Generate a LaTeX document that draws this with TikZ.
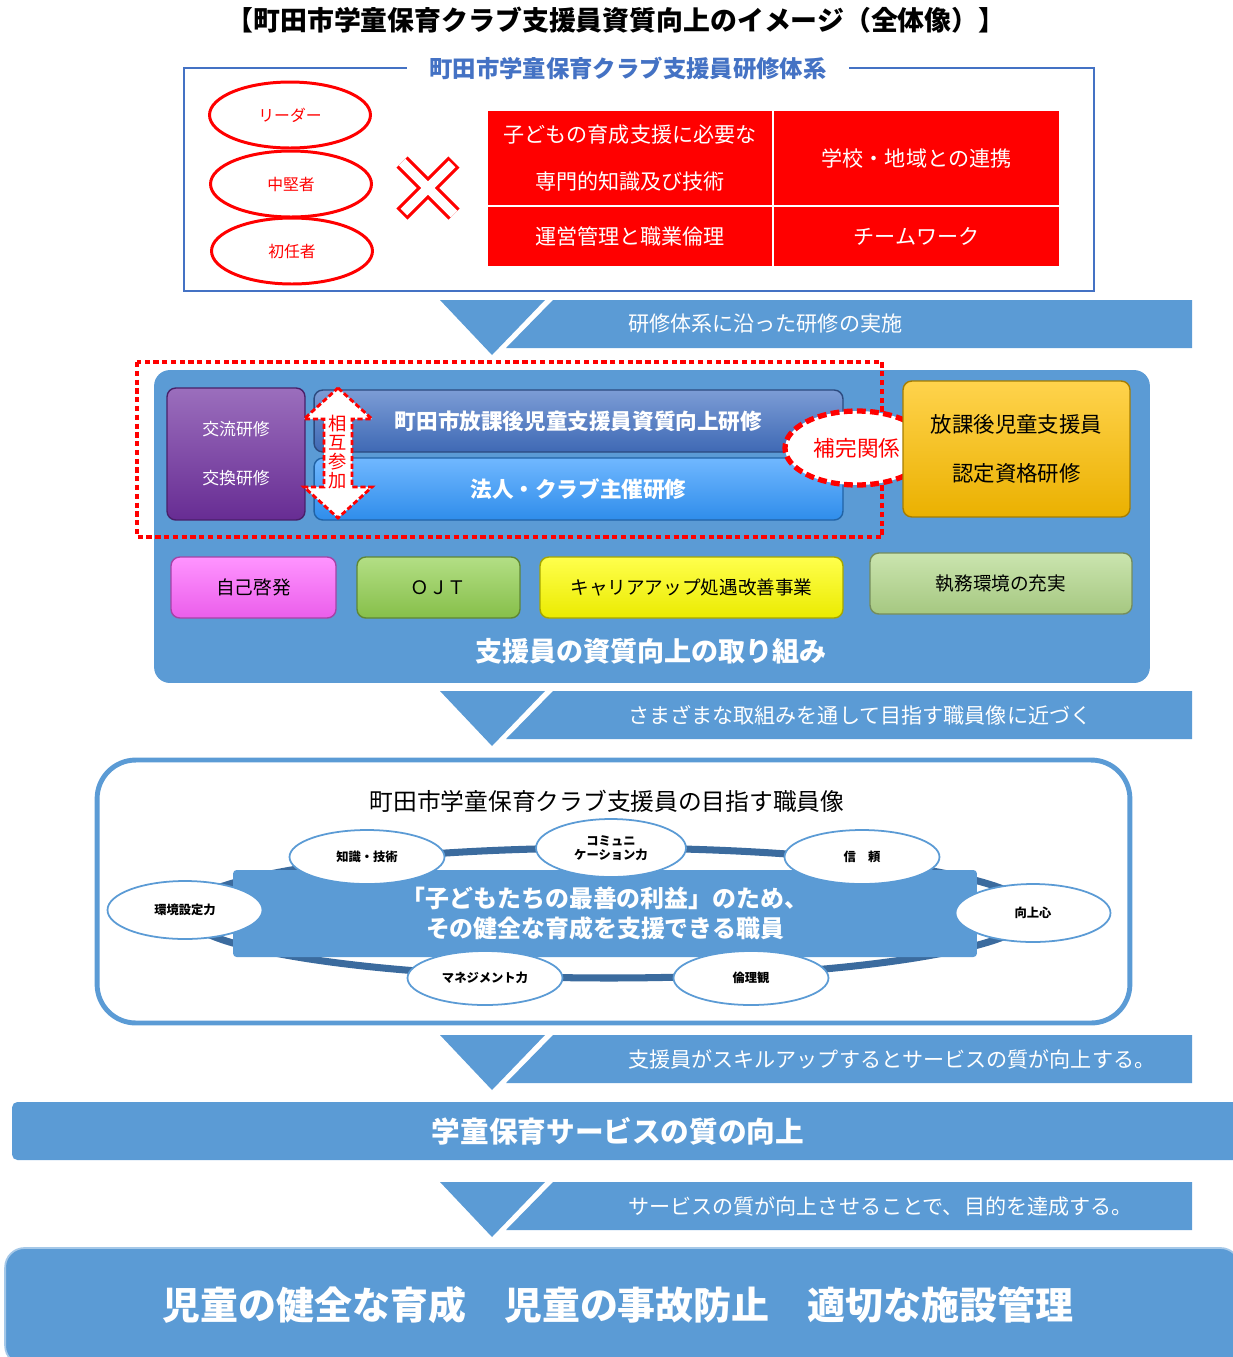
\documentclass[tikz,border=0pt]{standalone}
\usepackage{fontspec}
\setmainfont{Noto Sans CJK JP}
\usetikzlibrary{shapes.geometric,positioning}
\definecolor{mcframe}{HTML}{4472C4}
\definecolor{mcsky}{HTML}{5B9BD5}
\definecolor{mcred}{HTML}{FF0000}
\definecolor{mcpurple}{HTML}{7030A0}
\definecolor{mcbar}{HTML}{4472C4}
\definecolor{mcbarlight}{HTML}{3399FF}
\definecolor{mcgold}{HTML}{FFC000}
\definecolor{mcpink}{HTML}{FF66FF}
\definecolor{mcgreen}{HTML}{92D050}
\definecolor{mcyellow}{HTML}{FFFF00}
\definecolor{mcpale}{HTML}{B4D98C}
\definecolor{mcring}{HTML}{3B6B9E}
\tikzset{
  redoval/.style={ellipse,draw=mcred,line width=1.7pt,text=mcred,
    minimum width=3.22cm,minimum height=1.32cm,inner sep=0pt,
    font=\fontsize{9}{11}\selectfont},
  redcell/.style={fill=mcred,draw=white,line width=0.8pt,text=white,
    align=center,inner sep=0pt,font=\fontsize{12}{27}\selectfont},
  bevel/.style={rounded corners=5pt,top color=#1!70!white,bottom color=#1!92!black,
    draw=#1!65!black,line width=0.8pt,align=center,inner sep=0pt},
  traitoval/.style={ellipse,draw=mcsky,fill=white,line width=1pt,inner sep=0pt,
    minimum width=3.1cm,minimum height=1.08cm,align=center,
    font=\bfseries\fontsize{7}{8}\selectfont},
  bandtext/.style={anchor=west,text=white,font=\fontsize{12}{14}\selectfont}
}
\begin{document}
\begin{tikzpicture}[x=0.02cm,y=-0.02cm]
  \useasboundingbox (0,0) rectangle (1232,1357);
  \node[font=\bfseries\fontsize{15.3}{18}\selectfont] (title) at (616,20)
    {【町田市学童保育クラブ支援員資質向上のイメージ（全体像）】};

  % training system
  \node[draw=mcframe,line width=1.2pt,minimum width=18.2cm,minimum height=4.46cm] (system) at (639,179.5) {};
  \node[fill=white,text=mcframe,inner xsep=0.44cm,font=\bfseries\fontsize{13.3}{16}\selectfont] (systemtitle) at (628,68)
    {町田市学童保育クラブ支援員研修体系};
  \node[redoval] (leader) at (290,115) {リーダー};
  \node[redoval] (middle) at (291,184) {中堅者};
  \node[redoval] (novice) at (292,251) {初任者};
  \draw[mcred,line width=9pt] (402,162) -- (454,214) (454,162) -- (402,214);
  \draw[white,line width=5.4pt,shorten <=1.6pt,shorten >=1.6pt] (402,162) -- (454,214) (454,162) -- (402,214);
  \node[redcell,minimum width=5.72cm,minimum height=1.92cm] (skill) at (630,158)
    {子どもの育成支援に必要な\\専門的知識及び技術};
  \node[redcell,minimum width=5.74cm,minimum height=1.92cm] (region) at (916.5,158) {学校・地域との連携};
  \node[redcell,minimum width=5.72cm,minimum height=1.22cm] (ethics) at (630,236.5) {運営管理と職業倫理};
  \node[redcell,minimum width=5.74cm,minimum height=1.22cm] (teamwork) at (916.5,236.5) {チームワーク};

  % step bands
  \foreach \y/\txt [count=\i] in {300/研修体系に沿った研修の実施,
      691/さまざまな取組みを通して目指す職員像に近づく,
      1035/支援員がスキルアップするとサービスの質が向上する。,
      1182/サービスの質が向上させることで、目的を達成する。}{
    \fill[mcsky] (440,\y) -- (545,\y) -- (492,\y+55) -- cycle;
    \fill[mcsky] (553,\y) -- (1192,\y) -- (1192,\y+48) -- (506,\y+48) -- cycle;
    \node[bandtext] (band\i) at (622,\y+24) {\txt};
  }

  % efforts
  \node[fill=mcsky,rounded corners=9pt,minimum width=19.92cm,minimum height=6.26cm] (efforts) at (652,526.5) {};
  \node[text=white,font=\bfseries\fontsize{15.4}{18}\selectfont] (effortslabel) at (651,651)
    {支援員の資質向上の取り組み};
  \draw[mcred,line width=2.3pt,dash pattern=on 3pt off 2pt] (137,362) rectangle (882,537);
  \node[bevel=mcpurple,minimum width=2.76cm,minimum height=2.64cm,text=white,
    font=\fontsize{9.6}{27.8}\selectfont] (exchange) at (236,454) {交流研修\\交換研修};
  \node[bevel=mcbar,minimum width=10.58cm,minimum height=1.24cm,text=white,
    font=\bfseries\fontsize{12.3}{14}\selectfont] (citytraining) at (578.5,421)
    {町田市放課後児童支援員資質向上研修};
  \node[bevel=mcbarlight,minimum width=10.58cm,minimum height=1.24cm,text=white,
    font=\bfseries\fontsize{12.3}{14}\selectfont] (clubtraining) at (578.5,489)
    {法人・クラブ主催研修};
  \filldraw[fill=white,draw=mcred,line width=1.6pt,dash pattern=on 3pt off 1.5pt]
    (338,388) -- (372,419) -- (352,419) -- (352,487) -- (372,487) -- (338,518)
    -- (304,487) -- (324,487) -- (324,419) -- (304,419) -- cycle;
  \node[text=mcred,align=center,font=\fontsize{10.4}{10.8}\selectfont] (mutual) at (338,452)
    {相\\互\\参\\加};
  \node[ellipse,fill=white,draw=mcred,line width=3pt,dash pattern=on 5pt off 2.5pt,
    minimum width=2.88cm,minimum height=1.48cm,inner sep=0pt,text=mcred,
    font=\fontsize{12.3}{14}\selectfont] (complement) at (857,448) {補完関係};
  \node[bevel=mcgold,minimum width=4.54cm,minimum height=2.72cm,
    font=\fontsize{12.2}{27.8}\selectfont] (certified) at (1016.5,449)
    {放課後児童支援員\\認定資格研修};
  \node[bevel=mcpink,minimum width=3.3cm,minimum height=1.22cm,
    font=\fontsize{10.6}{12}\selectfont] (selfdev) at (253.5,587.5) {自己啓発};
  \node[bevel=mcgreen,minimum width=3.26cm,minimum height=1.22cm,
    font=\fontsize{10.6}{12}\selectfont] (ojt) at (438.5,587.5) {ＯＪＴ};
  \node[bevel=mcyellow,minimum width=6.06cm,minimum height=1.22cm,
    font=\fontsize{10.6}{12}\selectfont] (career) at (691.5,587.5) {キャリアアップ処遇改善事業};
  \node[bevel=mcpale,minimum width=5.24cm,minimum height=1.22cm,
    font=\fontsize{10.6}{12}\selectfont] (workplace) at (1001,583.5) {執務環境の充実};

  % staff image
  \node[draw=mcsky,fill=white,line width=2.8pt,rounded corners=22pt,
    minimum width=20.66cm,minimum height=5.26cm] (image) at (613.5,891.5) {};
  \node[font=\fontsize{13.5}{16}\selectfont] (imagetitle) at (607,801)
    {町田市学童保育クラブ支援員の目指す職員像};
  \draw[mcring,line width=4pt] (609,913) ellipse [x radius=8.48cm,y radius=1.3cm];
  \node[fill=mcsky,rounded corners=2pt,minimum width=14.88cm,minimum height=1.74cm,
    text=white,align=center,font=\bfseries\fontsize{13.6}{17}\selectfont] (ideal) at (605,913.5)
    {「子どもたちの最善の利益」のため、\\その健全な育成を支援できる職員};
  \node[traitoval] (knowledge) at (367,857) {知識・技術};
  \node[traitoval,minimum width=3.0cm,minimum height=1.16cm] (communication) at (611,848) {コミュニ\\ケーション力};
  \node[traitoval] (trust) at (862,857) {信\quad 頼};
  \node[traitoval,minimum height=1.16cm] (aspiration) at (1033,913) {向上心};
  \node[traitoval] (morals) at (751,978) {倫理観};
  \node[traitoval] (management) at (485,978) {マネジメント力};
  \node[traitoval,minimum height=1.16cm] (environment) at (185,910) {環境設定力};

  % service quality and goals
  \node[fill=mcsky,rounded corners=3pt,minimum width=24.56cm,minimum height=1.16cm,
    text=white,font=\bfseries\fontsize{16.3}{19}\selectfont] (quality) at (626,1131)
    {\hspace*{-0.16cm}学童保育サービスの質の向上\hspace*{0.16cm}};
  \node[fill=mcsky,draw=mcsky!55!white,line width=1pt,rounded corners=11pt,
    minimum width=24.7cm,minimum height=2.34cm] (goals) at (622.5,1306.5) {};
  \node[text=white,font=\bfseries\fontsize{21.6}{25}\selectfont] (goalstext) at (618,1305)
    {児童の健全な育成　児童の事故防止　適切な施設管理};
\end{tikzpicture}
\end{document}
